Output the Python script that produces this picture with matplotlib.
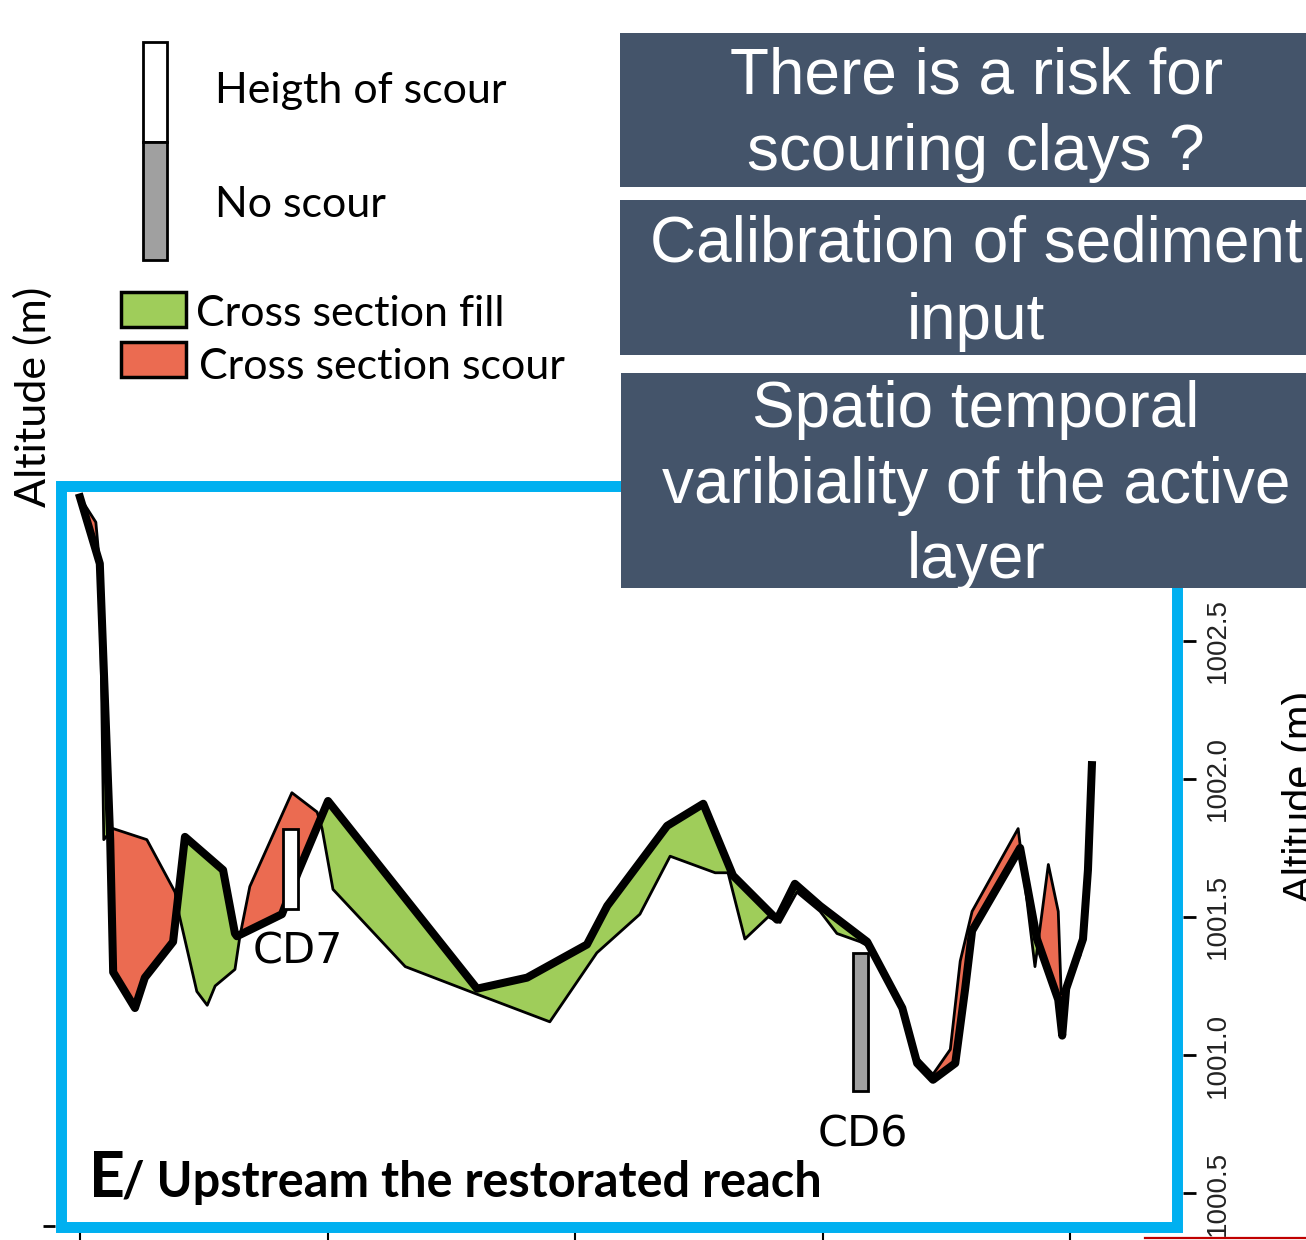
import numpy as np
import matplotlib.pyplot as plt
from matplotlib.patches import Rectangle
from matplotlib.lines import Line2D

W, H = 1306, 1240
fig = plt.figure(figsize=(W / 100, H / 100), dpi=100)


def fx(px):
    return px / W


def fy(py):
    return 1 - py / H


# longitudinal profile: distance (m) / bed altitude (m)
dist_new = [0, 4.0, 6.1, 6.7, 11.1, 13.1, 18.8, 21.2, 28.9, 31.3, 31.7, 40.8, 44.0,
            50.1, 80.2, 90.3, 102.4, 106.5, 118.6, 125.9, 131.9, 140.8, 144.4, 149.5,
            159.0, 166.1, 169.1, 172.3, 176.8, 178.8, 180.2, 189.9, 193.3, 197.6,
            198.4, 199.2, 202.6, 203.6, 204.4]
alt_new = [1003.02, 1002.78, 1001.78, 1001.30, 1001.17, 1001.28, 1001.41, 1001.79,
           1001.67, 1001.44, 1001.43, 1001.51, 1001.66, 1001.92, 1001.24, 1001.28,
           1001.40, 1001.54, 1001.83, 1001.91, 1001.65, 1001.49, 1001.62, 1001.54,
           1001.41, 1001.17, 1000.97, 1000.91, 1000.97, 1001.24, 1001.45, 1001.75,
           1001.42, 1001.20, 1001.07, 1001.24, 1001.42, 1001.67, 1002.05]

dist_old = [0, 3.2, 4.0, 4.8, 6.7, 13.5, 19.2, 20.0, 23.6, 25.7, 27.3, 31.3, 32.3,
            34.3, 42.8, 47.9, 48.9, 51.1, 65.7, 80.2, 94.9, 104.4, 113.1, 119.2,
            128.3, 130.9, 134.3, 139.0, 141.4, 144.8, 149.5, 152.9, 157.6, 159.6,
            166.1, 169.1, 172.3, 175.8, 177.8, 180.2, 189.5, 192.9, 195.6, 197.6,
            198.2, 202.0, 203.2, 204.4]
alt_old = [1003.02, 1002.93, 1002.77, 1001.78, 1001.82, 1001.78, 1001.59, 1001.51,
           1001.23, 1001.18, 1001.25, 1001.31, 1001.43, 1001.61, 1001.95, 1001.88,
           1001.82, 1001.60, 1001.32, 1001.22, 1001.12, 1001.37, 1001.51, 1001.72,
           1001.66, 1001.66, 1001.42, 1001.50, 1001.48, 1001.59, 1001.52, 1001.44,
           1001.41, 1001.39, 1001.17, 1000.99, 1000.93, 1001.02, 1001.34, 1001.52,
           1001.82, 1001.32, 1001.69, 1001.52, 1001.22, 1001.36, 1001.54, 1002.05]

# scour chains
rod_names = ['CD7', 'CD6']
rod_dist = [42.5, 157.7]
rod_bottom = [1001.53, 1000.87]
rod_top = [1001.82, 1001.37]
rod_colors = ['white', '#A0A0A0']

alt_ticks = [1000.5, 1001.0, 1001.5, 1002.0, 1002.5]
dist_ticks = [0, 50, 100, 150, 200]

questions = [
    ['There is a risk for', 'scouring clays ?'],
    ['Calibration of sediment', 'input'],
    ['Spatio temporal', 'varibiality of the active', 'layer'],
]

GREEN = '#9FCD5A'
RED = '#EB6B51'
BLUE = '#00B0F0'
SLATE = '#44546A'

# ---- profile panel
ax = fig.add_axes([fx(55), fy(1228), fx(1183) - fx(55), fy(480) - fy(1228)])
ax.set_xlim(-5.05, 222.8)
ax.set_ylim(1000.373, 1003.083)

xs = np.union1d(dist_new, dist_old)
zn = np.interp(xs, dist_new, alt_new)
zo = np.interp(xs, dist_old, alt_old)
ax.fill_between(xs, zo, zn, where=zn >= zo, interpolate=True, color=GREEN, lw=0)
ax.fill_between(xs, zo, zn, where=zn <= zo, interpolate=True, color=RED, lw=0)
ax.plot(dist_old, alt_old, color='black', lw=2)
ax.plot(dist_new, alt_new, color='black', lw=5.8)

heights = [t - b for t, b in zip(rod_top, rod_bottom)]
ax.bar(rod_dist, heights, bottom=rod_bottom, width=3, color=rod_colors,
       edgecolor='black', lw=2, zorder=4)
ax.text(34.9, 1001.33, rod_names[0], fontsize=31, family='DejaVu Sans', va='baseline')
ax.text(148.9, 1000.67, rod_names[1], fontsize=31, family='DejaVu Sans', va='baseline')

for s in ax.spines.values():
    s.set_visible(False)
ax.yaxis.tick_right()
ax.set_yticks(alt_ticks)
ax.set_yticklabels([f'{v:.1f}' for v in alt_ticks], rotation=90, va='center',
                   fontsize=20, family='Liberation Sans', color='#222222')
ax.tick_params(axis='y', length=9.5, width=2, pad=6)
ax.set_xticks(dist_ticks)
ax.tick_params(axis='x', length=8.6, width=1.5, labelbottom=False)

sec = ax.secondary_yaxis('left')
sec.set_yticks([1000.38])
sec.tick_params(labelleft=False, length=9, width=2)
sec.spines['left'].set_visible(False)

# blue frame around panel
fig.add_artist(Rectangle((fx(61), fy(1227)), fx(1177) - fx(61), fy(486) - fy(1227),
                         transform=fig.transFigure, fill=False, ec=BLUE, lw=7.9, zorder=5))

fig.text(fx(89), fy(1197), 'E', fontsize=45, weight='bold', family='Lato',
         va='baseline', zorder=6)
fig.text(fx(122), fy(1197), '/ Upstream the restorated reach', fontsize=35,
         weight='bold', family='Lato', va='baseline', zorder=6)

# axis titles
fig.text(fx(33), fy(397), 'Altitude (m)', rotation=90, ha='center', va='center',
         fontsize=31, family='Lato')
fig.text(fx(1282), fy(797), 'Altitude (m)', rotation=90, ha='left', va='center',
         fontsize=30, family='Liberation Sans')

# ---- legend
fig.add_artist(Rectangle((fx(143), fy(142)), fx(167) - fx(143), fy(42) - fy(142),
                         transform=fig.transFigure, fc='white', ec='black', lw=2))
fig.add_artist(Rectangle((fx(143), fy(260)), fx(167) - fx(143), fy(142) - fy(260),
                         transform=fig.transFigure, fc='#A0A0A0', ec='black', lw=2))
fig.text(fx(215), fy(103), 'Heigth of scour', fontsize=31, family='Lato', va='baseline')
fig.text(fx(215), fy(217), 'No scour', fontsize=31, family='Lato', va='baseline')
fig.add_artist(Rectangle((fx(121), fy(327)), fx(186) - fx(121), fy(292) - fy(327),
                         transform=fig.transFigure, fc=GREEN, ec='black', lw=2.5))
fig.add_artist(Rectangle((fx(121), fy(377)), fx(186) - fx(121), fy(342) - fy(377),
                         transform=fig.transFigure, fc=RED, ec='black', lw=2.5))
fig.text(fx(196), fy(326), 'Cross section fill', fontsize=31, family='Lato', va='baseline')
fig.text(fx(199), fy(379), 'Cross section scour', fontsize=31, family='Lato', va='baseline')

# ---- question boxes
boxes = [(620, 33, 187), (620, 200, 355), (621, 373, 588)]
baselines = [[94, 170], [262, 339], [427, 503, 578]]
for (x0, y0, y1), lines, bls in zip(boxes, questions, baselines):
    box = Rectangle((fx(x0), fy(y1)), 1.01 - fx(x0), fy(y0) - fy(y1),
                    transform=fig.transFigure, fc=SLATE, ec='none', zorder=6)
    fig.add_artist(box)
    for line, bl in zip(lines, bls):
        t = fig.text(fx(976), fy(bl), line, ha='center', va='baseline', color='white',
                     fontsize=46, family='Liberation Sans', zorder=7)
        t.set_clip_path(box)

fig.add_artist(Line2D([fx(1145), 1.0], [fy(1238), fy(1238)], color='#C00000', lw=1.6,
                      transform=fig.transFigure))

fig.savefig('out.png', dpi=100)
